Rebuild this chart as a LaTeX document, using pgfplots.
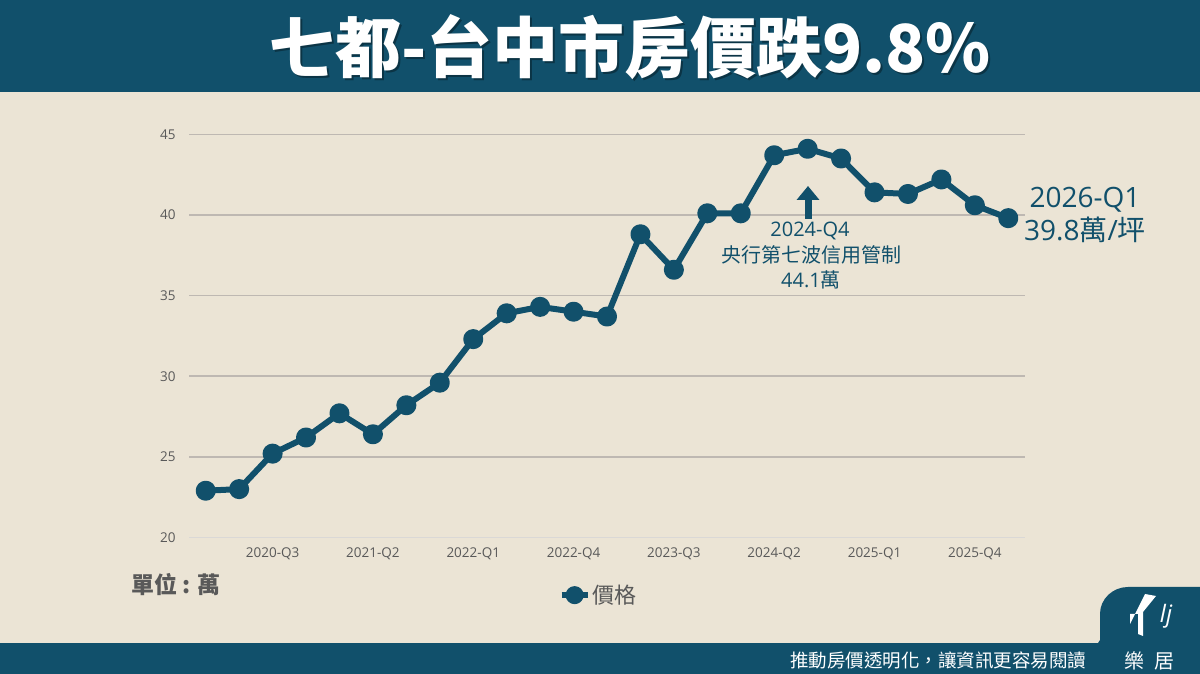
\documentclass[border=0pt]{standalone}
\usepackage{pgfplots}
\pgfplotsset{compat=1.18}
\usepackage{fontspec}
\setmainfont{Open Sans}
\newfontfamily\cjk{Noto Sans CJK TC}
\usetikzlibrary{arrows.meta}
\definecolor{teal}{RGB}{17,80,107}
\definecolor{bg}{RGB}{235,228,213}
\definecolor{gridc}{RGB}{190,184,178}
\definecolor{gridl}{RGB}{218,216,214}
\definecolor{tickc}{RGB}{89,89,89}
\begin{document}
\begin{tikzpicture}[x=1pt,y=1pt]
\useasboundingbox (0,0) rectangle (1200,674);
\fill[bg] (0,0) rectangle (1200,674);
% top banner
\fill[teal] (0,582) rectangle (1200,674);
\node[text=black,opacity=0.35,font=\cjk\bfseries\fontsize{66}{66}\selectfont] at (632,625) {七都-台中市房價跌9.8\%};
\node[text=white,font=\cjk\bfseries\fontsize{66}{66}\selectfont] at (630,627) {七都-台中市房價跌9.8\%};
% bottom banner
\fill[teal] (0,0) rectangle (1200,31);
\fill[teal] (1098,0) -- (1098,31) -- (1100,34) -- (1100,60) to[out=90,in=180] (1128,87) -- (1200,87) -- (1200,0) -- cycle;
\node[anchor=east,text=white,font=\cjk\fontsize{18.5}{18.5}\selectfont] at (1090,14) {推動房價透明化，讓資訊更容易閱讀};
\node[text=white,font=\cjk\fontsize{20}{20}\selectfont] at (1149,13) {樂\hspace{10pt}居};
\fill[white] (1130,50) -- (1130,60) -- (1138,60) -- (1138,40) -- (1143,38) -- (1143,62) -- (1156,78) -- (1145,80) -- cycle;
\node[text=white,font=\itshape\fontsize{24}{24}\selectfont] at (1166,58) {\textit{lj}};
\begin{axis}[
  at={(189pt,136.5pt)}, anchor=south west,
  scale only axis, width=836pt, height=403.2pt,
  xmin=0.5, xmax=25.5, ymin=20, ymax=45,
  axis line style={draw=none},
  tick style={draw=none},
  ytick={25,30,35,40,45},
  extra y ticks={20},
  extra y tick style={grid style={color=gridl,line width=1.5pt}},
  ymajorgrids,
  grid style={color=gridc,line width=1.5pt},
  xtick={3,6,9,12,15,18,21,24},
  xticklabels={2020-Q3,2021-Q2,2022-Q1,2022-Q4,2023-Q3,2024-Q2,2025-Q1,2025-Q4},
  ticklabel style={font=\fontsize{13.5}{13.5}\selectfont, text=tickc},
  /pgf/number format/assume math mode=true,
  yticklabel style={xshift=-10pt},
  xticklabel style={yshift=-7pt},
  legend style={at={(0.49,-0.143)}, anchor=center, draw=none, fill=none,
    font=\cjk\fontsize{22}{22}\selectfont, text=tickc, inner sep=0pt},
  legend image code/.code={\draw[mark repeat=2,mark phase=2,mark size=6pt] plot coordinates {(0pt,0pt) (13pt,0pt) (26pt,0pt)};},
  clip=false,
]
\addplot[color=teal, line width=6pt, line join=round, mark=*, mark size=7pt, mark options={solid, fill=teal, draw=none}] coordinates {
(1,22.9) (2,23.0) (3,25.2) (4,26.2) (5,27.7) (6,26.4) (7,28.2) (8,29.6) (9,32.3) (10,33.9)
(11,34.3) (12,34.0) (13,33.7) (14,38.8) (15,36.6) (16,40.1) (17,40.1) (18,43.7) (19,44.1) (20,43.5)
(21,41.4) (22,41.3) (23,42.2) (24,40.6) (25,39.8)
};
\addlegendentry{價格}
\end{axis}
% unit label
\node[anchor=west,text=tickc,font=\cjk\bfseries\fontsize{23}{23}\selectfont] at (128,89) {單位 : 萬};
% annotation
\draw[teal, line width=7pt, -{Triangle[width=22pt,length=14pt]}] (808,455) -- (808,488);
\node[text=teal,font=\fontsize{20}{20}\selectfont] at (810,443) {2024-Q4};
\node[text=teal,font=\cjk\fontsize{20}{20}\selectfont] at (811,419) {央行第七波信用管制};
\node[text=teal,font=\fontsize{20}{20}\selectfont] at (811,394) {44.1{\cjk 萬}};
\node[text=teal,font=\fontsize{28}{28}\selectfont] at (1085,474) {2026-Q1};
\node[text=teal,font=\fontsize{28}{28}\selectfont] at (1085,444) {39.8{\cjk 萬}/{\cjk 坪}};
\end{tikzpicture}
\end{document}
